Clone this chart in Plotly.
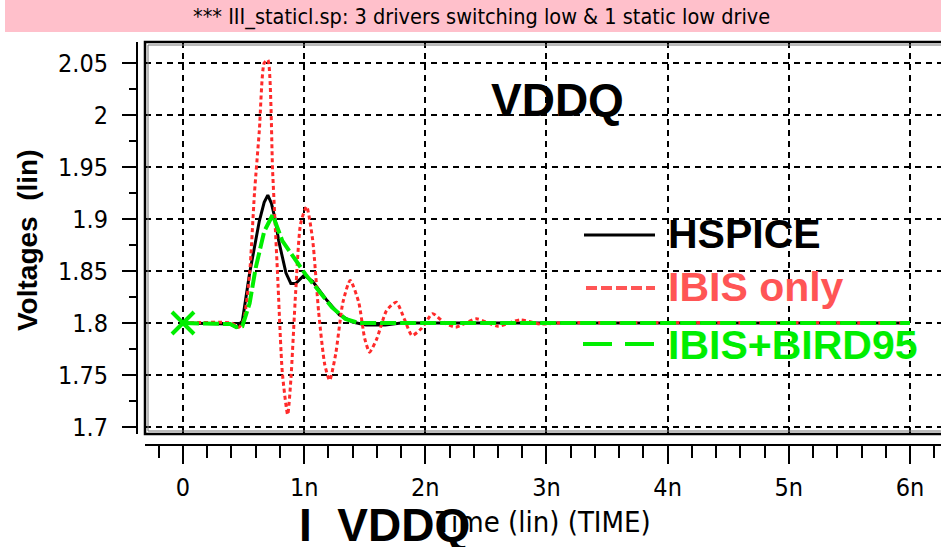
import plotly.graph_objects as go

# ---------------- data ----------------
hspice_t = [0, 0.39, 0.44, 0.49, 0.55, 0.63, 0.67, 0.70, 0.73, 0.76, 0.79, 0.85, 0.89, 0.93,
            1.00, 1.07, 1.18, 1.29, 1.40, 1.51, 1.67, 1.80, 6.0]
hspice_v = [1.800, 1.799, 1.796, 1.802, 1.848, 1.898, 1.916, 1.923, 1.915, 1.900, 1.879, 1.848,
            1.838, 1.838, 1.846, 1.840, 1.823, 1.808, 1.801, 1.798, 1.798, 1.800, 1.800]

ibis_t = [0, 0.40, 0.46, 0.50, 0.55, 0.59, 0.63, 0.67, 0.70, 0.74, 0.78, 0.82, 0.864, 0.89,
          0.93, 0.97, 1.02, 1.07, 1.12, 1.17, 1.21, 1.26, 1.32, 1.38, 1.45, 1.50, 1.54,
          1.60, 1.68, 1.76, 1.83, 1.89, 1.97, 2.06, 2.16, 2.25, 2.42, 2.60, 2.78, 2.95,
          3.10, 6.0]
ibis_v = [1.800, 1.800, 1.796, 1.803, 1.848, 1.925, 1.985, 2.050, 2.053, 1.945, 1.848, 1.752,
          1.712, 1.745, 1.830, 1.895, 1.912, 1.880, 1.810, 1.760, 1.745, 1.770, 1.820, 1.841,
          1.820, 1.785, 1.772, 1.785, 1.812, 1.820, 1.803, 1.788, 1.795, 1.809, 1.800, 1.796,
          1.804, 1.797, 1.803, 1.799, 1.800, 1.800]

bird_t = [0, 0.39, 0.44, 0.49, 0.55, 0.60, 0.67, 0.74, 0.82, 0.93, 1.01, 1.12, 1.23,
          1.34, 1.45, 1.60, 6.0]
bird_v = [1.800, 1.799, 1.796, 1.797, 1.819, 1.853, 1.888, 1.904, 1.879, 1.860, 1.847,
          1.831, 1.815, 1.804, 1.800, 1.800, 1.800]

marker_t = [0]
marker_v = [1.8]

x_tickvals = [0, 1, 2, 3, 4, 5, 6]
x_ticktext = ["0", "1n", "2n", "3n", "4n", "5n", "6n"]
y_tickvals = [1.70, 1.75, 1.80, 1.85, 1.90, 1.95, 2.00, 2.05]
y_ticktext = ["1.7", "1.75", "1.8", "1.85", "1.9", "1.95", "2", "2.05"]

title_text = "*** III_staticl.sp: 3 drivers switching low &amp; 1 static low drive"
legend_names = ["HSPICE", "IBIS only", "IBIS+BIRD95"]

# ---------------- styling ----------------
NARROW = "DejaVu Sans Condensed"
BOLD = "Liberation Sans, Arial, sans-serif"
BLACK = "#000000"
RED = "#ff2a2a"
RED_TXT = "#ff5555"
GREEN = "#00ee00"

W, H = 941, 547
ML, MR, MT, MB = 137, 0, 42, 102
PW, PH = W - ML - MR, H - MT - MB


def px(xp):
    return (xp - ML) / PW


def py(yp):
    return (H - MB - yp) / PH


def nfont(size):
    return dict(family=NARROW, size=size, color="black")


fig = go.Figure()

fig.add_trace(go.Scatter(x=hspice_t, y=hspice_v, mode="lines", name=legend_names[0],
                         line=dict(color=BLACK, width=3)))
fig.add_trace(go.Scatter(x=ibis_t, y=ibis_v, mode="lines", name=legend_names[1],
                         line=dict(color=RED, width=3, dash="4px,3px", shape="spline", smoothing=0.6)))
fig.add_trace(go.Scatter(x=bird_t, y=bird_v, mode="lines", name=legend_names[2],
                         line=dict(color=GREEN, width=4, dash="16px,4px")))
fig.add_trace(go.Scatter(x=marker_t, y=marker_v, mode="markers", showlegend=False,
                         marker=dict(symbol="x-thin", size=22, color=GREEN,
                                     line=dict(color=GREEN, width=4))))

x_dom0 = (145 - ML) / PW
y_dom0 = (H - MB - 434) / PH

fig.update_layout(
    width=W, height=H,
    margin=dict(l=ML, r=MR, t=MT, b=MB, pad=0),
    paper_bgcolor="white", plot_bgcolor="white",
    showlegend=False,
    font=nfont(20),
    xaxis=dict(
        domain=[x_dom0, 1], anchor="free", position=0,
        range=[-0.3136, 6.256],
        tickvals=x_tickvals, ticktext=x_ticktext,
        ticks="outside", ticklen=18, tickwidth=2, tickcolor="black",
        minor=dict(dtick=0.2, tick0=0, ticks="outside", ticklen=12, tickwidth=2,
                   tickcolor="black", showgrid=False),
        showline=True, linecolor="black", linewidth=2,
        showgrid=True, gridcolor="black", gridwidth=1.5, griddash="6px,5px",
        zeroline=False,
        tickfont=nfont(25),
        ticklabelstandoff=2,
    ),
    yaxis=dict(
        domain=[y_dom0, 1], anchor="free", position=0,
        range=[1.6933, 2.0702],
        tickvals=y_tickvals, ticktext=y_ticktext,
        ticks="outside", ticklen=14, tickwidth=2, tickcolor="black",
        minor=dict(dtick=0.025, tick0=1.7, ticks="outside", ticklen=7, tickwidth=2,
                   tickcolor="black", showgrid=False),
        showline=True, linecolor="black", linewidth=2,
        showgrid=True, gridcolor="black", gridwidth=1.5, griddash="6px,5px",
        zeroline=False,
        tickfont=nfont(25),
        ticklabelstandoff=9,
    ),
)

shapes = [
    # pink title band
    dict(type="rect", xref="paper", yref="paper", x0=px(5), x1=px(941), y0=py(32), y1=py(0),
         fillcolor="#ffc0cb", line=dict(width=0), layer="below"),
    # double frame around plotting region
    dict(type="rect", xref="x domain", yref="y domain", x0=0, x1=1.01, y0=0, y1=1,
         line=dict(color="black", width=2.5), fillcolor="rgba(0,0,0,0)"),
    dict(type="rect", xref="x domain", yref="y domain", x0=3 / (PW * (1 - x_dom0)), x1=1.01,
         y0=3 / (PH * (1 - y_dom0)), y1=1 - 3 / (PH * (1 - y_dom0)),
         line=dict(color="#777777", width=1), fillcolor="rgba(0,0,0,0)"),
    # legend line samples
    dict(type="line", xref="paper", yref="paper", x0=px(584), x1=px(655), y0=py(235), y1=py(235),
         line=dict(color=BLACK, width=3)),
    dict(type="line", xref="paper", yref="paper", x0=px(586), x1=px(655), y0=py(288), y1=py(288),
         line=dict(color=RED_TXT, width=4, dash="11px,4px")),
    dict(type="line", xref="paper", yref="paper", x0=px(583), x1=px(655), y0=py(344), y1=py(344),
         line=dict(color=GREEN, width=4, dash="29px,13px")),
]
fig.update_layout(shapes=shapes)

ann = [
    dict(text=title_text, xref="paper", yref="paper", x=px(481), y=py(17),
         showarrow=False, font=nfont(21.5), xanchor="center", yanchor="middle"),
    dict(text="<b>Voltages  (lin)</b>", xref="paper", yref="paper", x=px(27), y=py(240),
         showarrow=False, textangle=-90, font=dict(family=BOLD, size=28, color="black"),
         xanchor="center", yanchor="middle"),
    dict(text="<b>VDDQ</b>", xref="paper", yref="paper", x=px(557), y=py(100),
         showarrow=False, font=dict(family=BOLD, size=46, color="black"),
         xanchor="center", yanchor="middle"),
    dict(text="<b>" + legend_names[0] + "</b>", xref="paper", yref="paper", x=px(666), y=py(234),
         showarrow=False, font=dict(family=BOLD, size=41, color=BLACK),
         xanchor="left", yanchor="middle"),
    dict(text="<b>" + legend_names[1] + "</b>", xref="paper", yref="paper", x=px(666), y=py(287),
         showarrow=False, font=dict(family=BOLD, size=41, color=RED_TXT),
         xanchor="left", yanchor="middle"),
    dict(text="<b>" + legend_names[2] + "</b>", xref="paper", yref="paper", x=px(666), y=py(345),
         showarrow=False, font=dict(family=BOLD, size=41, color=GREEN),
         xanchor="left", yanchor="middle"),
    dict(text="Time (lin) (TIME)", xref="paper", yref="paper", x=px(543), y=py(522),
         showarrow=False, font=nfont(29), xanchor="center", yanchor="middle"),
    dict(text="<b>I  VDDQ</b>", xref="paper", yref="paper", x=px(297), y=py(525),
         showarrow=False, font=dict(family=BOLD, size=46, color="black"),
         xanchor="left", yanchor="middle"),
]
fig.update_layout(annotations=ann)

fig.write_html("out.html", config={"displayModeBar": False},
               post_script="document.body.style.margin='0px';")
